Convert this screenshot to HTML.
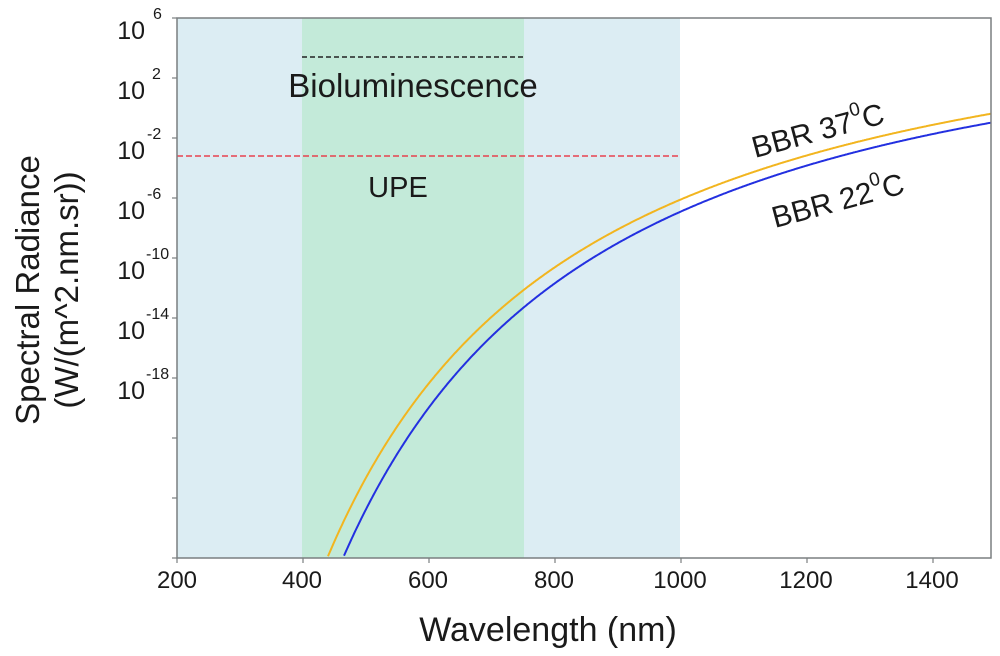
<!DOCTYPE html>
<html><head><meta charset="utf-8"><style>
html,body{margin:0;padding:0;background:#fff}
svg{display:block}
text{font-family:"Liberation Sans",sans-serif;fill:#1a1a1a}
</style></head><body>
<svg id="s" width="1000" height="656" viewBox="0 0 1000 656" xmlns="http://www.w3.org/2000/svg">
<rect x="177" y="18" width="503" height="540" fill="#dcedf3"/>
<rect x="302" y="18" width="222" height="540" fill="#c3ead9"/>
<line x1="302" y1="57" x2="524" y2="57" stroke="#222" stroke-width="1.5" stroke-dasharray="5,3"/>
<line x1="177" y1="156" x2="680" y2="156" stroke="#e8434f" stroke-width="1.5" stroke-dasharray="6,3"/>
<text x="413" y="97" font-size="33" text-anchor="middle">Bioluminescence</text>
<text x="398" y="197" font-size="29" text-anchor="middle">UPE</text>
<path id="py" fill="none" stroke="#f2b51f" stroke-width="2"/>
<path id="pb" fill="none" stroke="#2330e0" stroke-width="2"/>
<text transform="translate(755,158) rotate(-15)" font-size="30">BBR 37<tspan font-size="19" dy="-15">0</tspan><tspan dy="15">C</tspan></text>
<text transform="translate(775,228) rotate(-15)" font-size="30">BBR 22<tspan font-size="19" dy="-15">0</tspan><tspan dy="15">C</tspan></text>
<rect x="177" y="18" width="814" height="540" fill="none" stroke="#7a7f80" stroke-width="1.5"/>
<g id="ticks" stroke="#7a7f80" stroke-width="1.2"></g>
<g font-size="24" text-anchor="middle">
<text x="177" y="588">200</text><text x="302" y="588">400</text><text x="428" y="588">600</text>
<text x="554" y="588">800</text><text x="680" y="588">1000</text><text x="806" y="588">1200</text><text x="932" y="588">1400</text>
</g>
<g font-size="25" text-anchor="end">
<text x="145" y="39">10</text><text x="145" y="99">10</text><text x="145" y="159">10</text>
<text x="145" y="219">10</text><text x="145" y="279">10</text><text x="145" y="339">10</text><text x="145" y="399">10</text>
</g>
<g font-size="16">
<text x="153" y="19">6</text><text x="152" y="79">2</text><text x="147" y="139">-2</text><text x="147" y="199">-6</text>
<text x="146" y="259">-10</text><text x="146" y="319">-14</text><text x="146" y="379">-18</text>
</g>
<text x="548" y="641" font-size="34" text-anchor="middle">Wavelength (nm)</text>
<text transform="translate(39,290) rotate(-90)" font-size="33" text-anchor="middle">Spectral Radiance</text>
<text transform="translate(78,290) rotate(-90)" font-size="33" text-anchor="middle">(W/(m^2.nm.sr))</text>
</svg>
<script>
var NS="http://www.w3.org/2000/svg",g=document.getElementById("ticks");
function ln(x1,y1,x2,y2){var l=document.createElementNS(NS,"line");l.setAttribute("x1",x1);l.setAttribute("y1",y1);l.setAttribute("x2",x2);l.setAttribute("y2",y2);g.appendChild(l);}
for(var y=18;y<=558;y+=60)ln(172,y,177,y);
for(var x=177;x<=990;x+=126)ln(x,558,x,563);
function fit(pts){var X=[],Y=[];pts.forEach(function(p){var L=200+(p[0]-177)/0.63;X.push([1,1/L,Math.log(L)]);Y.push(p[1]);});
var A=[[0,0,0],[0,0,0],[0,0,0]],b=[0,0,0];for(var i=0;i<X.length;i++)for(var r=0;r<3;r++){b[r]+=X[i][r]*Y[i];for(var c=0;c<3;c++)A[r][c]+=X[i][r]*X[i][c];}
for(var k=0;k<3;k++){for(var r=k+1;r<3;r++){var f=A[r][k]/A[k][k];for(var c=k;c<3;c++)A[r][c]-=f*A[k][c];b[r]-=f*b[k];}}
var s=[0,0,0];for(var r=2;r>=0;r--){var t=b[r];for(var c=r+1;c<3;c++)t-=A[r][c]*s[c];s[r]=t/A[r][r];}return s;}
function draw(id,pts){var s=fit(pts),d="",first=true;for(var x=300;x<=991;x+=1){var L=200+(x-177)/0.63;var y=s[0]+s[1]/L+s[2]*Math.log(L);if(y>558){continue;}d+=(first?"M":"L")+x+","+y.toFixed(1)+" ";first=false;}
document.getElementById(id).setAttribute("d",d);}
draw("py",[[329,558],[400,413],[500,313],[600,242],[680,200],[993,112]]);
draw("pb",[[343,558],[400,450],[500,327],[680,213],[993,122]]);
</script>
</body></html>
